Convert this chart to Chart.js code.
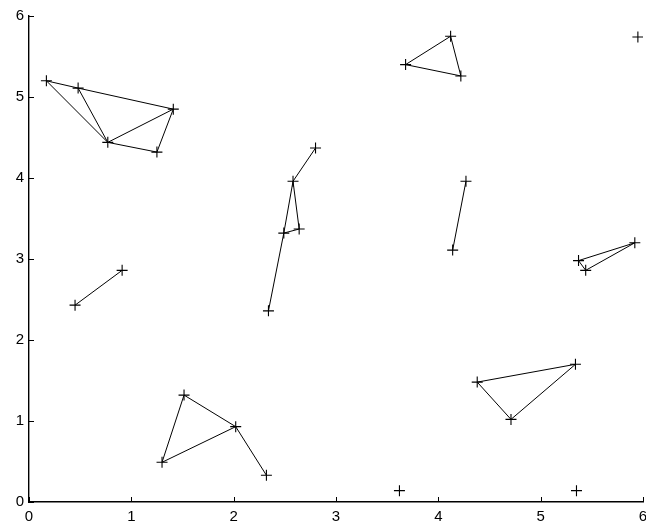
<!DOCTYPE html>
<html>
<head>
<meta charset="utf-8">
<script src="https://cdn.jsdelivr.net/npm/chart.js@4/dist/chart.umd.min.js"></script>
<style>
    html, body { margin: 0; padding: 0; background: #fff; }
    #wrap { width: 646px; height: 524px; }
</style>
</head>
<body>
<div id="wrap"><canvas id="chart-graph"></canvas></div>
<script>
// Pontos do grafo
const pointX = [0.17, 0.48, 0.77, 1.25, 1.41,
                2.80, 2.58, 2.49, 2.64, 2.34,
                4.12, 3.68, 4.22, 5.95, 4.27, 4.14, 5.92, 5.37, 5.44,
                0.91, 0.45, 1.515, 2.02, 1.30, 2.32,
                4.38, 5.34, 4.71, 3.62, 5.35];
const pointY = [5.20, 5.11, 4.44, 4.32, 4.85,
                4.37, 3.96, 3.32, 3.37, 2.36,
                5.75, 5.40, 5.26, 5.74, 3.96, 3.11, 3.20, 2.98, 2.86,
                2.86, 2.43, 1.32, 0.93, 0.49, 0.33,
                1.48, 1.70, 1.02, 0.14, 0.14];

// Arestas (índices dos pontos)
const edgeFrom = [0, 1, 0, 1, 2, 2, 3,  5, 6, 6, 7, 7,  10, 11, 10,  14,  16, 17, 16,  19,  21, 21, 23, 22,  25, 25, 27];
const edgeTo   = [1, 4, 2, 2, 4, 3, 4,  6, 7, 8, 8, 9,  11, 12, 12,  15,  17, 18, 18,  20,  22, 23, 22, 24,  26, 27, 26];

const tickValues = [0, 1, 2, 3, 4, 5, 6];

// Ticks para dentro
const innerTicks = {
    id: 'innerTicks',
    afterDraw(chart) {
        const ctx = chart.ctx;
        const xs = chart.scales.x, ys = chart.scales.y;
        const area = chart.chartArea;
        ctx.save();
        ctx.strokeStyle = '#000';
        ctx.lineWidth = 1;
        ctx.beginPath();
        tickValues.forEach(v => {
            const px = Math.round(xs.getPixelForValue(v)) + 0.5;
            ctx.moveTo(px, area.bottom);
            ctx.lineTo(px, area.bottom - 5);
            const py = Math.round(ys.getPixelForValue(v)) + 0.5;
            ctx.moveTo(area.left, py);
            ctx.lineTo(area.left + 5, py);
        });
        ctx.stroke();
        ctx.restore();
    }
};

const datasets = [];
edgeFrom.forEach((a, i) => {
    const b = edgeTo[i];
    datasets.push({
        data: [{ x: pointX[a], y: pointY[a] }, { x: pointX[b], y: pointY[b] }],
        showLine: true,
        borderColor: '#000',
        borderWidth: 1,
        pointRadius: 0,
        pointHoverRadius: 0
    });
});
datasets.push({
    data: pointX.map((x, i) => ({ x: x, y: pointY[i] })),
    pointStyle: 'cross',
    pointRadius: 5.5,
    borderColor: '#000',
    borderWidth: 1.1,
    backgroundColor: '#000'
});

const font = { family: 'Liberation Sans, Arial, sans-serif', size: 15 };

new Chart(document.getElementById('chart-graph'), {
    type: 'scatter',
    data: { datasets: datasets },
    options: {
        responsive: true,
        maintainAspectRatio: false,
        animation: false,
        layout: { autoPadding: false, padding: { top: 16, right: 3, left: 0, bottom: 0 } },
        plugins: {
            legend: { display: false },
            tooltip: { enabled: false }
        },
        scales: {
            x: {
                type: 'linear',
                min: 0,
                max: 6,
                grid: { display: false, drawTicks: false },
                border: { display: true, color: '#000', width: 1.4 },
                ticks: { stepSize: 1, color: '#000', font: font, padding: 6, maxRotation: 0 },
                afterFit(scale) {
                    scale.height = 22;
                    scale.paddingLeft = 0;
                    scale.paddingRight = 0;
                }
            },
            y: {
                type: 'linear',
                min: 0,
                max: 6,
                grid: { display: false, drawTicks: false },
                border: { display: true, color: '#000', width: 1.4 },
                ticks: { stepSize: 1, color: '#000', font: font, padding: 5 },
                afterFit(scale) {
                    scale.width = 29;
                    scale.paddingTop = 0;
                    scale.paddingBottom = 0;
                }
            }
        }
    },
    plugins: [innerTicks]
});
</script>
</body>
</html>
